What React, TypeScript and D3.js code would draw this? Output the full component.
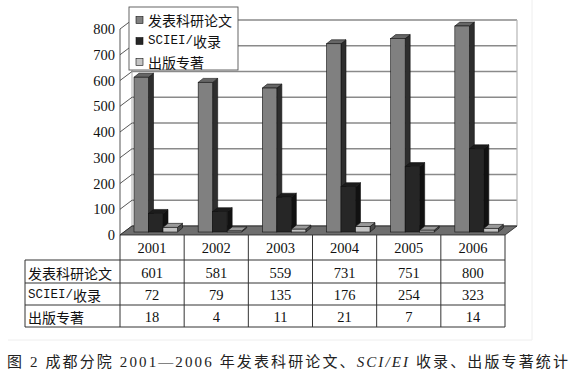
import React from 'react';
import * as d3 from 'd3';

// data
const years = ['2001', '2002', '2003', '2004', '2005', '2006'];
const seriesNames = ['发表科研论文', 'SCIEI/收录', '出版专著'];
const papers = [601, 581, 559, 731, 751, 800];
const sciei = [72, 79, 135, 176, 254, 323];
const books = [18, 4, 11, 21, 7, 14];
const yTicks = [0, 100, 200, 300, 400, 500, 600, 700, 800];
const caption = '图 2  成都分院 2001—2006 年发表科研论文、';
const captionTail = ' 收录、出版专著统计';

const seriesValues = [papers, sciei, books];
// front, side, top colours per series
const faces = [
  ['#808080', '#2e2e2e', '#666666'],
  ['#262626', '#111111', '#1c1c1c'],
  ['#c4c4c4', '#4a4a4a', '#9a9a9a'],
];

const W = 581;
const H = 385;
const left = 120;
const right = 505;
const frontBase = 235;
const depthX = 12;
const depthY = -9;
const barBase = 232;
const barDX = 5;
const barDY = -4;

const serif = '"Liberation Serif", "Noto Sans CJK SC", serif';
const cjk = '"Noto Sans CJK SC", sans-serif';
const mono = '"Liberation Mono", "Noto Sans CJK SC", monospace';

const App = () => {
  const x0 = d3.scaleBand<string>().domain(years).range([left, right]);
  const x1 = d3.scaleBand<string>().domain(seriesNames).range([14, 57.5]);
  const h = d3.scaleLinear().domain([0, 800]).range([0, 206]);

  const backLeft = left + depthX;
  const backRight = right + depthX;
  const backBase = frontBase + depthY;

  const bars: JSX.Element[] = [];
  years.forEach((yr, i) => {
    seriesNames.forEach((s, j) => {
      const v = seriesValues[j][i];
      const bx = (x0(yr) as number) + (x1(s) as number);
      const bw = x1.bandwidth();
      const top = barBase - h(v);
      const [fc, sc, tc] = faces[j];
      bars.push(
        <g key={yr + s} stroke="#111" strokeWidth={0.6}>
          <polygon
            fill={sc}
            points={`${bx + bw},${barBase} ${bx + bw + barDX},${barBase + barDY} ${bx + bw + barDX},${top + barDY} ${bx + bw},${top}`}
          />
          <polygon
            fill={tc}
            points={`${bx},${top} ${bx + barDX},${top + barDY} ${bx + bw + barDX},${top + barDY} ${bx + bw},${top}`}
          />
          <rect x={bx} y={top} width={bw} height={barBase - top} fill={fc} />
        </g>
      );
    });
  });

  const rowTops = [260, 283, 305, 327];
  const rowMid = [273, 295, 317];
  const tableLeft = 25;

  // latin part of "SCIEI/收录" is half-width in the original
  const label = (s: string, j: number, x: number, y: number) =>
    j === 1 ? (
      <text x={x} y={y} dominantBaseline="central" fill="#111">
        <tspan fontFamily={mono} fontSize={12.5}>SCIEI/</tspan>
        <tspan fontFamily={cjk} fontSize={14}>收录</tspan>
      </text>
    ) : (
      <text x={x} y={y} dominantBaseline="central" fontSize={14} fontFamily={cjk} fill="#111">{s}</text>
    );

  return (
    <svg width={W} height={H} style={{ position: 'absolute', left: 0, top: 0, background: '#fff' }}>
      {/* faint frame of the figure */}
      <line x1={8} x2={532} y1={340} y2={340} stroke="#eeeeee" />
      <line x1={532} x2={532} y1={0} y2={340} stroke="#eeeeee" />

      {/* back wall grid */}
      {yTicks.map(t => (
        <line key={'g' + t} x1={backLeft} x2={backRight} y1={backBase - h(t)} y2={backBase - h(t)}
          stroke="#8a8a8a" strokeWidth={1.3} />
      ))}
      <line x1={backRight} x2={backRight} y1={backBase - h(800)} y2={backBase} stroke="#b5b5b5" strokeWidth={1.2} />
      <line x1={backLeft} x2={backLeft} y1={backBase - h(800)} y2={backBase} stroke="#999" strokeWidth={0.8} />

      {/* side wall */}
      <line x1={left} x2={left} y1={frontBase - h(800)} y2={frontBase} stroke="#444" strokeWidth={0.9} />
      {yTicks.map(t => (
        <line key={'d' + t} x1={left} x2={backLeft} y1={frontBase - h(t)} y2={backBase - h(t)}
          stroke="#444" strokeWidth={0.9} />
      ))}

      {/* floor */}
      <polygon
        points={`${left},${frontBase} ${right},${frontBase} ${backRight},${backBase} ${backLeft},${backBase}`}
        fill="#6e6e6e" stroke="#222" strokeWidth={0.8}
      />

      {bars}

      {/* y tick labels */}
      {yTicks.map(t => (
        <text key={'t' + t} x={115} y={frontBase - h(t)} textAnchor="end" dominantBaseline="central"
          fontFamily={serif} fontSize={14.5} fill="#111">{t}</text>
      ))}

      {/* legend */}
      <rect x={129} y={7} width={109} height={63} fill="#fff" stroke="#555" strokeWidth={0.9} />
      {seriesNames.map((s, j) => {
        const cy = 20 + j * 21;
        return (
          <g key={'l' + s}>
            <rect x={136} y={cy - 3.5} width={7} height={7} fill={faces[j][0]} stroke="#111" strokeWidth={0.6} />
            {label(s, j, 148, cy)}
          </g>
        );
      })}

      {/* data table */}
      <g stroke="#333" strokeWidth={1}>
        {rowTops.map(y => (
          <line key={'r' + y} x1={tableLeft} x2={right} y1={y} y2={y} />
        ))}
        <line x1={tableLeft} x2={tableLeft} y1={260} y2={327} />
        {years.map(yr => (
          <line key={'c' + yr} x1={x0(yr)} x2={x0(yr)} y1={frontBase} y2={327} />
        ))}
        <line x1={right} x2={right} y1={frontBase} y2={327} />
      </g>
      {years.map(yr => (
        <text key={'y' + yr} x={(x0(yr) as number) + x0.bandwidth() / 2} y={248}
          textAnchor="middle" dominantBaseline="central" fontFamily={serif} fontSize={14.5} fill="#111">{yr}</text>
      ))}
      {seriesNames.map((s, j) => (
        <g key={'row' + s}>
          {label(s, j, 28, rowMid[j])}
          {years.map((yr, i) => (
            <text key={yr} x={(x0(yr) as number) + x0.bandwidth() / 2} y={rowMid[j]}
              textAnchor="middle" dominantBaseline="central" fontFamily={serif} fontSize={14.5} fill="#111">
              {seriesValues[j][i]}
            </text>
          ))}
        </g>
      ))}

      {/* caption */}
      <text x={7} y={362} dominantBaseline="central" fontSize={15} fontFamily={serif} fill="#222"
        textLength={561} lengthAdjust="spacing">
        {caption}
        <tspan fontStyle="italic">SCI/EI</tspan>
        {captionTail}
      </text>
    </svg>
  );
};

export default App;
